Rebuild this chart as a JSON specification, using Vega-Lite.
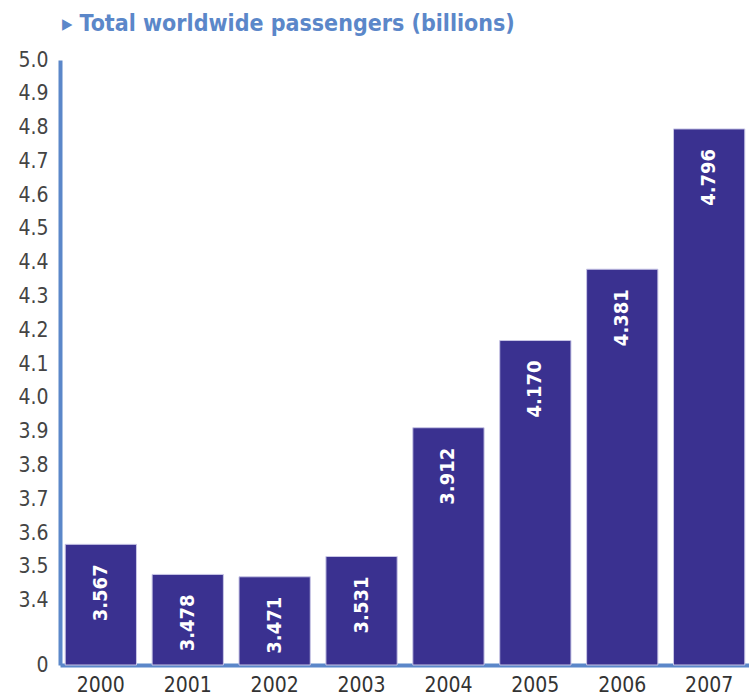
{
  "$schema": "https://vega.github.io/schema/vega-lite/v6.json",
  "autosize": "none",
  "width": 690,
  "height": 605,
  "padding": {"left": 60, "top": 60, "right": 0, "bottom": 33},
  "background": "white",
  "title": {
    "text": "▸ Total worldwide passengers (billions)",
    "anchor": "start",
    "frame": "group",
    "offset": 13,
    "dx": 2,
    "font": "DejaVu Sans Condensed, sans-serif",
    "fontSize": 23,
    "fontWeight": "bold",
    "color": "#5b87c9"
  },
  "data": {
    "values": [
      {"year": "2000", "passengers": 3.567},
      {"year": "2001", "passengers": 3.478},
      {"year": "2002", "passengers": 3.471},
      {"year": "2003", "passengers": 3.531},
      {"year": "2004", "passengers": 3.912},
      {"year": "2005", "passengers": 4.170},
      {"year": "2006", "passengers": 4.381},
      {"year": "2007", "passengers": 4.796}
    ]
  },
  "encoding": {
    "x": {
      "field": "year",
      "type": "ordinal",
      "scale": {"paddingInner": 0.18, "paddingOuter": 0.06},
      "axis": {
        "title": null,
        "labelAngle": 0,
        "ticks": false,
        "domainColor": "#5b87c9",
        "domainWidth": 4,
        "labelFont": "DejaVu Sans Condensed, sans-serif",
        "labelFontSize": 21,
        "labelColor": "#333333",
        "labelPadding": 9
      }
    },
    "y": {
      "field": "passengers",
      "type": "quantitative",
      "scale": {"domain": [3.21, 5.0], "zero": false, "nice": false, "clamp": true},
      "axis": {
        "title": null,
        "values": [3.21, 3.4, 3.5, 3.6, 3.7, 3.8, 3.9, 4.0, 4.1, 4.2, 4.3, 4.4, 4.5, 4.6, 4.7, 4.8, 4.9, 5.0],
        "labelExpr": "datum.value < 3.3 ? '0' : format(datum.value, '.1f')",
        "ticks": false,
        "grid": false,
        "domainColor": "#5b87c9",
        "domainWidth": 4,
        "labelFont": "DejaVu Sans Condensed, sans-serif",
        "labelFontSize": 21,
        "labelColor": "#444444",
        "labelPadding": 12,
        "labelOverlap": false
      }
    }
  },
  "layer": [
    {
      "mark": {"type": "bar", "color": "#3a3190", "stroke": "#c8c6e6", "strokeWidth": 1}
    },
    {
      "mark": {
        "type": "text",
        "angle": -90,
        "align": "right",
        "baseline": "middle",
        "dx": -20,
        "color": "white",
        "fontWeight": "bold",
        "font": "DejaVu Sans Condensed, sans-serif",
        "fontSize": 20
      },
      "encoding": {
        "text": {"field": "passengers", "type": "quantitative", "format": ".3f"}
      }
    }
  ],
  "config": {"view": {"stroke": null}}
}
